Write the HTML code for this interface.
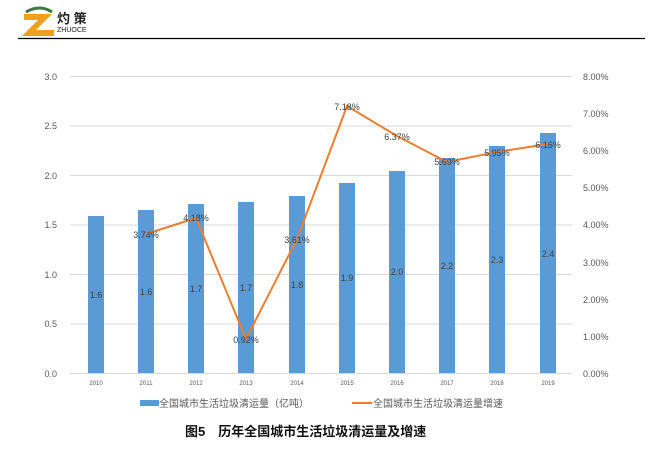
<!DOCTYPE html>
<html><head><meta charset="utf-8"><style>
body{margin:0;background:#fff;width:663px;height:463px;overflow:hidden}
text{font-family:"Liberation Sans","Noto Sans CJK SC",sans-serif}
</style></head><body>
<svg width="663" height="463" xmlns="http://www.w3.org/2000/svg">
<!-- logo -->
<path d="M26 12 Q40 4 52 12" stroke="#3a7a3a" stroke-width="3" fill="none"/>
<polygon points="24,14 52,14 36,30 54,30 54,36 22,36 38,20 24,20" fill="#f0a020"/>
<text x="57" y="23" font-size="13" font-weight="bold" fill="#222">灼 策</text>
<text x="57" y="32" font-size="7" fill="#222">ZHUOCE</text>
<line x1="18" y1="38.5" x2="645" y2="38.5" stroke="#000" stroke-width="1.2"/>
<g stroke="#d9d9d9" stroke-width="1">
<line x1="70" y1="76.5" x2="572" y2="76.5"/><line x1="70" y1="126" x2="572" y2="126"/>
<line x1="70" y1="175.5" x2="572" y2="175.5"/><line x1="70" y1="225" x2="572" y2="225"/>
<line x1="70" y1="274.5" x2="572" y2="274.5"/><line x1="70" y1="324" x2="572" y2="324"/>
<line x1="70" y1="373.5" x2="572" y2="373.5"/></g>
<g font-size="9" fill="#595959" text-anchor="end">
<text x="57" y="80">3.0</text><text x="57" y="129">2.5</text><text x="57" y="179">2.0</text>
<text x="57" y="228">1.5</text><text x="57" y="278">1.0</text><text x="57" y="327">0.5</text><text x="57" y="377">0.0</text></g>
<g font-size="9" fill="#595959">
<text x="583" y="80">8.00%</text><text x="583" y="117">7.00%</text><text x="583" y="154">6.00%</text>
<text x="583" y="191">5.00%</text><text x="583" y="228">4.00%</text><text x="583" y="266">3.00%</text>
<text x="583" y="303">2.00%</text><text x="583" y="340">1.00%</text><text x="583" y="377">0.00%</text></g>
<g fill="#5b9bd5">
<rect x="88" y="216" width="16" height="157"/><rect x="138" y="210" width="16" height="163"/>
<rect x="188" y="204" width="16" height="169"/><rect x="238" y="202" width="16" height="171"/>
<rect x="289" y="196" width="16" height="177"/><rect x="339" y="183" width="16" height="190"/>
<rect x="389" y="171" width="16" height="202"/><rect x="439" y="158" width="16" height="215"/>
<rect x="489" y="146" width="16" height="227"/><rect x="540" y="133" width="16" height="240"/></g>
<g font-size="9" fill="#404040" text-anchor="middle">
<text x="96" y="298">1.6</text><text x="146" y="295">1.6</text><text x="196" y="292">1.7</text>
<text x="246" y="291">1.7</text><text x="297" y="288">1.8</text><text x="347" y="281">1.9</text>
<text x="397" y="275">2.0</text><text x="447" y="269">2.2</text><text x="497" y="263">2.3</text><text x="548" y="257">2.4</text></g>
<polyline fill="none" stroke="#ed7d31" stroke-width="2" points="146,234 196,218 246,339 297,239 347,106 397,136 447,162 497,152 548,144"/>
<g font-size="9" fill="#404040" text-anchor="middle">
<text x="146" y="238">3.74%</text><text x="196" y="221">4.18%</text><text x="246" y="343">0.92%</text>
<text x="297" y="243">3.61%</text><text x="347" y="110">7.18%</text><text x="397" y="140">6.37%</text>
<text x="447" y="165">5.69%</text><text x="497" y="156">5.95%</text><text x="548" y="148">6.16%</text></g>
<g font-size="6" fill="#595959" text-anchor="middle">
<text x="96" y="385">2010</text><text x="146" y="385">2011</text><text x="196" y="385">2012</text>
<text x="246" y="385">2013</text><text x="297" y="385">2014</text><text x="347" y="385">2015</text>
<text x="397" y="385">2016</text><text x="447" y="385">2017</text><text x="497" y="385">2018</text><text x="548" y="385">2019</text></g>
<rect x="140" y="400" width="19" height="6" fill="#5b9bd5"/>
<text x="159" y="407" font-size="10" fill="#595959">全国城市生活垃圾清运量（亿吨）</text>
<line x1="352" y1="403" x2="372" y2="403" stroke="#ed7d31" stroke-width="2"/>
<text x="373" y="407" font-size="10" fill="#595959">全国城市生活垃圾清运量增速</text>
<text x="185" y="436" font-size="13" font-weight="bold" fill="#111">图5　历年全国城市生活垃圾清运量及增速</text>
</svg>
</body></html>
